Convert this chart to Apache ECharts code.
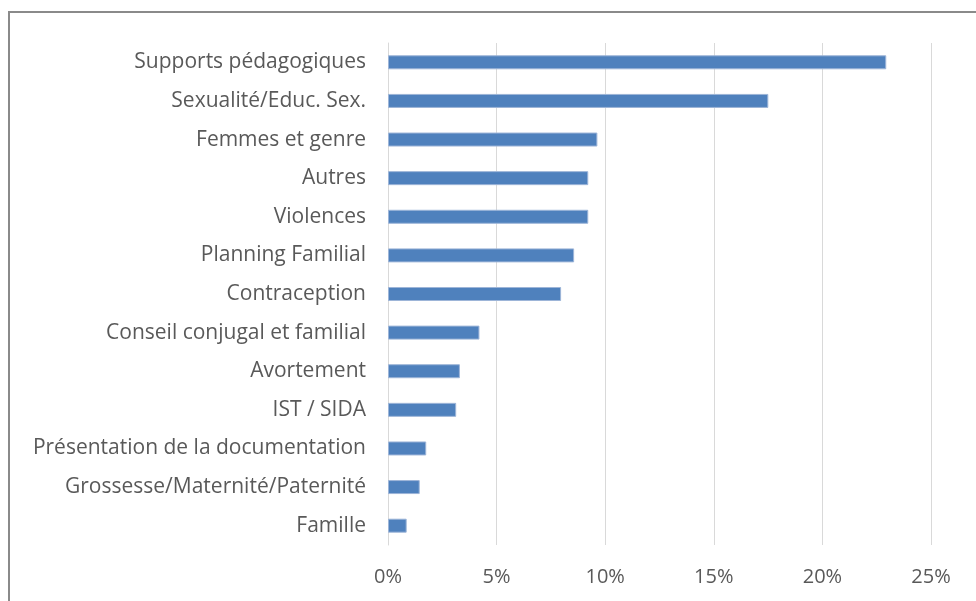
<!DOCTYPE html>
<html><head><meta charset="utf-8">
<script src="https://cdn.jsdelivr.net/npm/echarts@6/dist/echarts.min.js"></script>
<style>html,body{margin:0;padding:0;background:#fff}#c{width:976px;height:601px}</style>
</head><body><div id="c"></div>
<script>
const categories = ["Supports pédagogiques","Sexualité/Educ. Sex.","Femmes et genre","Autres","Violences","Planning Familial","Contraception","Conseil conjugal et familial","Avortement","IST / SIDA","Présentation de la documentation","Grossesse/Maternité/Paternité","Famille"];
const values = [22.94,17.51,9.64,9.22,9.22,8.57,7.97,4.21,3.31,3.14,1.76,1.46,0.86];
const ticks = [0,5,10,15,20,25];
const chart = echarts.init(document.getElementById('c'));
chart.setOption({
  animation:false,
  graphic:[{type:'rect',shape:{x:9,y:12,width:1000,height:640},style:{fill:'none',stroke:'#8a8a8a',lineWidth:2},z:-1}],
  grid:{left:388,right:45,top:43,bottom:56,containLabel:false},
  xAxis:{type:'value',min:ticks[0],max:ticks[ticks.length-1],interval:5,
    axisLine:{show:false},axisTick:{show:false},
    axisLabel:{formatter:v=>v+'%',color:'#595959',fontSize:20,fontFamily:'Open Sans',margin:22},
    splitLine:{lineStyle:{color:'#d9d9d9',width:1}}},
  yAxis:{type:'category',inverse:true,data:categories,
    axisLine:{show:true,lineStyle:{color:'#d9d9d9'}},axisTick:{show:false},
    axisLabel:{color:'#595959',fontSize:21,fontFamily:'Open Sans',margin:22}},
  series:[{type:'bar',data:values,barWidth:14,itemStyle:{color:'#4f81bd',borderColor:'#9db5d8',borderWidth:1}}]
});
</script></body></html>
